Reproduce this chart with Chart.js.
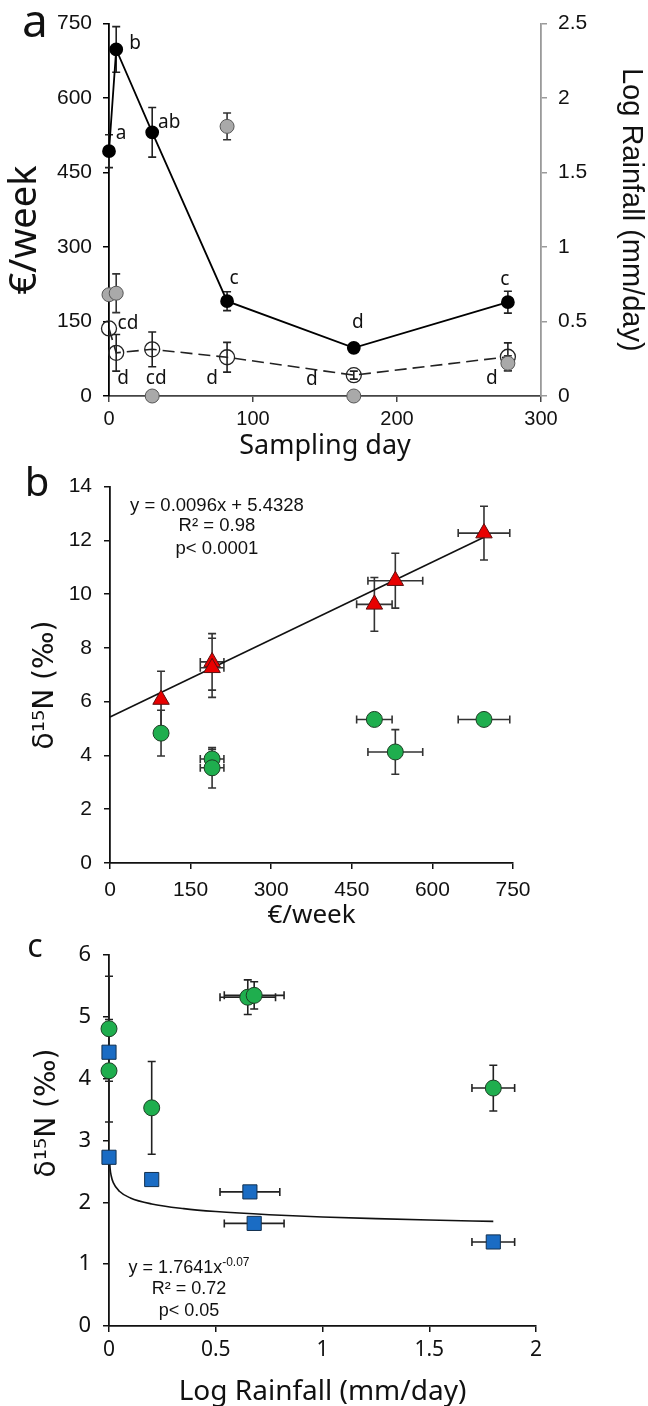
<!DOCTYPE html>
<html>
<head>
<meta charset="utf-8">
<title>Sampling day, €/week and δ15N</title>
<script src="https://cdn.jsdelivr.net/npm/chart.js"></script>
<style>
    body { margin: 0; background: #fff; overflow: hidden; }
    canvas { position: absolute; left: 0; }
    #chartA { top: 0; }
    #chartB { top: 462px; }
    #chartC { top: 930px; }
</style>
</head>
<body>
<canvas id="chartA" width="648" height="462"></canvas>
<canvas id="chartB" width="648" height="468"></canvas>
<canvas id="chartC" width="648" height="476"></canvas>

<script>
// ---------- data, panel a (sampling day)
const days = [0, 5, 30, 82, 170, 277];
const euroWeek = [493, 698, 531, 191, 97, 189];
const euroWeekErr = [33, 46, 50, 19, 5, 22];
const euroWeekLetters = ['a', 'b', 'ab', 'c', 'd', 'c'];
const openVals = [136, 87, 94, 78, 42, 79];
const openErr = [0, 37, 35, 30, 8, 28];
const openLetters = ['cd', 'd', 'cd', 'd', 'd', 'd'];
const logRain = [0.68, 0.69, 0, 1.81, 0, 0.22];
const logRainErr = [0, 0.13, 0, 0.09, 0, 0.05];
const dayTicks = [0, 100, 200, 300];
const euroTicks = [0, 150, 300, 450, 600, 750];
const rainTicks = [0, 0.5, 1, 1.5, 2, 2.5];

// ---------- data, panel b (€/week vs d15N)
const costX = [95, 190, 190, 492, 531, 696];
const costXErr = [5, 22, 22, 33, 51, 48];
const redN = [6.08, 7.48, 7.26, 9.62, 10.5, 12.27];
const redNErr = [1.05, 1.05, 1.1, 1.0, 1.02, 1.0];
const greenN = [4.83, 3.87, 3.54, 5.34, 4.13, 5.34];
const greenNErr = [0.85, 0.35, 0.75, 0.15, 0.83, 0.1];
const lineSlope = 0.0096;
const lineIntercept = 5.4328;
const lineX = [0, 696];
const nTicksB = [0, 2, 4, 6, 8, 10, 12, 14];

// ---------- data, panel c (log rainfall vs d15N)
const rainGreenX = [0, 0, 0.2, 0.65, 0.68, 1.8];
const rainGreenXErr = [0, 0, 0, 0.13, 0.14, 0.1];
const rainGreenY = [4.81, 4.13, 3.53, 5.32, 5.35, 3.85];
const rainGreenYErr = [0.85, 0.83, 0.75, 0.28, 0.22, 0.37];
const rainBlueX = [0, 0, 0.2, 0.66, 0.68, 1.8];
const rainBlueXErr = [0, 0, 0, 0.14, 0.14, 0.1];
const rainBlueY = [4.43, 2.73, 2.37, 2.17, 1.66, 1.36];
const powerCoef = 1.7641;
const powerExp = -0.07;
const curveX = [0.002, 0.005, 0.01, 0.02, 0.05, 0.1, 0.2, 0.35, 0.5, 0.75, 1, 1.25, 1.5, 1.8];
const rainTicksX = [0, 0.5, 1, 1.5, 2];
const nTicksC = [0, 1, 2, 3, 4, 5, 6];

// ---------- helpers
function pts(xs, ys) {
    return xs.map(function(x, i) { return { x: x, y: ys[i] }; });
}

function fixedTicks(list) {
    return function(scale) { scale.ticks = list.map(function(v) { return { value: v }; }); };
}

function drawErrors(chart, xs, ys, xErr, yErr, yAxis, color, cap) {
    const ctx = chart.ctx, sx = chart.scales.x, sy = chart.scales[yAxis];
    ctx.save();
    ctx.strokeStyle = color;
    ctx.lineWidth = 1.6;
    ctx.beginPath();
    xs.forEach(function(xv, i) {
        const px = sx.getPixelForValue(xv), py = sy.getPixelForValue(ys[i]);
        const ey = yErr ? yErr[i] : 0, ex = xErr ? xErr[i] : 0;
        if (ey) {
            const t = sy.getPixelForValue(ys[i] + ey), b = sy.getPixelForValue(ys[i] - ey);
            ctx.moveTo(px, t); ctx.lineTo(px, b);
            ctx.moveTo(px - cap, t); ctx.lineTo(px + cap, t);
            ctx.moveTo(px - cap, b); ctx.lineTo(px + cap, b);
        }
        if (ex) {
            const l = sx.getPixelForValue(xv - ex), r = sx.getPixelForValue(xv + ex);
            ctx.moveTo(l, py); ctx.lineTo(r, py);
            ctx.moveTo(l, py - cap); ctx.lineTo(l, py + cap);
            ctx.moveTo(r, py - cap); ctx.lineTo(r, py + cap);
        }
    });
    ctx.stroke();
    ctx.restore();
}

function text(ctx, str, x, y, font, rot) {
    ctx.save();
    ctx.font = font;
    ctx.fillStyle = '#111';
    ctx.textAlign = 'center';
    ctx.textBaseline = 'middle';
    ctx.translate(x, y);
    if (rot) ctx.rotate(rot);
    ctx.fillText(str, 0, 0);
    ctx.restore();
}

function axisStyle(color) {
    return {
        border: { display: true, color: color, width: 1.8 },
        grid: { drawOnChartArea: false, drawTicks: true, tickLength: 6, color: color, lineWidth: 1.5 }
    };
}

const base = {
    responsive: false,
    animation: false,
    devicePixelRatio: 1,
    events: [],
    plugins: { legend: { display: false }, tooltip: { enabled: false } }
};

// ---------- panel a
// pixel offsets of the significance letters from their points
const blackLetterOffsets = [[12, -18], [19, -6], [17, -10], [7, -23], [4, -25], [-3, -23]];
const openLetterOffsets = [[19, -5], [7, 26], [4, 29], [-15, 21], [-42, 4], [-16, 22]];

new Chart(document.getElementById('chartA'), {
    type: 'scatter',
    data: {
        datasets: [{
            data: pts(days, euroWeek), yAxisID: 'y', showLine: true, clip: false,
            borderColor: '#000', borderWidth: 1.8,
            pointRadius: 6, pointBackgroundColor: '#000', pointBorderColor: '#000'
        }, {
            data: pts(days, logRain), yAxisID: 'y2', showLine: false, clip: false,
            pointRadius: 7, pointBackgroundColor: '#a9a9a9', pointBorderColor: '#555', pointBorderWidth: 1
        }, {
            data: pts(days, openVals), yAxisID: 'y', showLine: true, clip: false,
            borderColor: '#222', borderWidth: 1.6, borderDash: [12, 6],
            pointRadius: 7.5, pointBackgroundColor: 'rgba(0,0,0,0)', pointBorderColor: '#222', pointBorderWidth: 1.3
        }]
    },
    options: Object.assign({}, base, {
        layout: { padding: { top: 23, left: 0, right: 0, bottom: 0 } },
        scales: {
            x: Object.assign(axisStyle('#444'), {
                type: 'linear', position: 'bottom', min: 0, max: 300,
                afterBuildTicks: fixedTicks(dayTicks),
                afterFit: function(s) { s.height = 66; },
                ticks: { color: '#111', font: { family: 'Liberation Sans', size: 20 }, padding: 5, maxRotation: 0 },
                title: { display: true, text: 'Sampling day', color: '#111',
                    font: { family: 'Noto Sans', size: 27, lineHeight: 1 }, padding: { top: 0, bottom: 2 } }
            }),
            y: Object.assign(axisStyle('#000'), {
                position: 'left', min: 0, max: 750,
                afterBuildTicks: fixedTicks(euroTicks),
                afterFit: function(s) { s.width = 109; },
                ticks: { color: '#111', font: { family: 'Liberation Sans', size: 21 }, padding: 11 }
            }),
            y2: Object.assign(axisStyle('#9a9a9a'), {
                position: 'right', min: 0, max: 2.5,
                afterBuildTicks: fixedTicks(rainTicks),
                afterFit: function(s) { s.width = 107; },
                ticks: { color: '#111', font: { family: 'Liberation Sans', size: 21 }, padding: 11,
                    callback: function(v) { return String(v); } },
                title: { display: true, text: 'Log Rainfall (mm/day)', color: '#111',
                    font: { family: 'Liberation Sans', size: 29, lineHeight: 1 }, padding: { top: 3, bottom: 0 } }
            })
        }
    }),
    plugins: [{
        id: 'panelA',
        beforeDatasetsDraw: function(chart) {
            drawErrors(chart, days, euroWeek, null, euroWeekErr, 'y', '#222', 4);
            drawErrors(chart, days, openVals, null, openErr, 'y', '#222', 4);
            drawErrors(chart, days, logRain, null, logRainErr, 'y2', '#333', 4);
        },
        afterDraw: function(chart) {
            const ctx = chart.ctx, sx = chart.scales.x, sy = chart.scales.y;
            const f = '19px "Noto Sans"';
            days.forEach(function(d, i) {
                text(ctx, euroWeekLetters[i], sx.getPixelForValue(d) + blackLetterOffsets[i][0],
                    sy.getPixelForValue(euroWeek[i]) + blackLetterOffsets[i][1], f);
                text(ctx, openLetters[i], sx.getPixelForValue(d) + openLetterOffsets[i][0],
                    sy.getPixelForValue(openVals[i]) + openLetterOffsets[i][1], f);
            });
            text(ctx, 'a', 35, 24, '46px "Noto Sans"');
            text(ctx, '€/week', 25, 230, '38px "Noto Sans"', -Math.PI / 2);
        }
    }]
});

// ---------- panel b
new Chart(document.getElementById('chartB'), {
    type: 'scatter',
    data: {
        datasets: [{
            data: pts(costX, redN), showLine: false, clip: false,
            pointStyle: 'triangle', pointRadius: 9.5,
            pointBackgroundColor: '#e80000', pointBorderColor: '#5a1010', pointBorderWidth: 1
        }, {
            data: pts(costX, greenN), showLine: false, clip: false,
            pointRadius: 8, pointBackgroundColor: '#1fae4e', pointBorderColor: '#1d3d24', pointBorderWidth: 1
        }, {
            data: pts(lineX, lineX.map(function(x) { return lineSlope * x + lineIntercept; })),
            showLine: true, clip: false, borderColor: '#111', borderWidth: 1.6, pointRadius: 0
        }]
    },
    options: Object.assign({}, base, {
        layout: { padding: { top: 21, left: 0, right: 135, bottom: 0 } },
        scales: {
            x: Object.assign(axisStyle('#111'), {
                type: 'linear', position: 'bottom', min: 0, max: 750,
                afterBuildTicks: fixedTicks(euroTicks),
                afterFit: function(s) { s.height = 67; },
                ticks: { color: '#111', font: { family: 'Liberation Sans', size: 21 }, padding: 9, maxRotation: 0 },
                title: { display: true, text: '€/week', color: '#111',
                    font: { family: 'Noto Sans', size: 26, lineHeight: 1 }, padding: { top: 0, bottom: 1 } }
            }),
            y: Object.assign(axisStyle('#111'), {
                position: 'left', min: 0, max: 14,
                afterBuildTicks: fixedTicks(nTicksB),
                afterFit: function(s) { s.width = 110; },
                ticks: { color: '#111', font: { family: 'Liberation Sans', size: 21 }, padding: 12 }
            })
        }
    }),
    plugins: [{
        id: 'panelB',
        beforeDatasetsDraw: function(chart) {
            drawErrors(chart, costX, redN, costXErr, redNErr, 'y', '#333', 4);
            drawErrors(chart, costX, greenN, costXErr, greenNErr, 'y', '#333', 4);
        },
        afterDraw: function(chart) {
            const ctx = chart.ctx, sx = chart.scales.x, sy = chart.scales.y;
            const f = '18.5px "Liberation Sans"';
            const cx = sx.getPixelForValue(199);
            text(ctx, 'y = 0.0096x + 5.4328', cx, sy.getPixelForValue(13.3), f);
            text(ctx, 'R² = 0.98', cx, sy.getPixelForValue(12.53), f);
            text(ctx, 'p< 0.0001', cx, sy.getPixelForValue(11.68), f);
            text(ctx, 'b', 37, 23, '40px "Noto Sans"');
            text(ctx, 'δ¹⁵N (‰)', 46, 223, '28px "DejaVu Sans"', -Math.PI / 2);
        }
    }]
});

// ---------- panel c
new Chart(document.getElementById('chartC'), {
    type: 'scatter',
    data: {
        datasets: [{
            data: pts(rainGreenX, rainGreenY), showLine: false, clip: false,
            pointRadius: 8, pointBackgroundColor: '#1fae4e', pointBorderColor: '#1d3d24', pointBorderWidth: 1
        }, {
            data: pts(rainBlueX, rainBlueY), showLine: false, clip: false,
            pointStyle: 'rect', pointRadius: 10,
            pointBackgroundColor: '#1a6cc4', pointBorderColor: '#12304f', pointBorderWidth: 1
        }, {
            data: pts(curveX, curveX.map(function(x) { return powerCoef * Math.pow(x, powerExp); })),
            showLine: true, clip: false, borderColor: '#111', borderWidth: 1.6, pointRadius: 0,
            cubicInterpolationMode: 'monotone'
        }]
    },
    options: Object.assign({}, base, {
        layout: { padding: { top: 17, left: 0, right: 112, bottom: 0 } },
        scales: {
            x: Object.assign(axisStyle('#111'), {
                type: 'linear', position: 'bottom', min: 0, max: 2,
                afterBuildTicks: fixedTicks(rainTicksX),
                afterFit: function(s) { s.height = 80; },
                ticks: { color: '#111', font: { family: 'Noto Sans', size: 21 }, padding: 5, maxRotation: 0,
                    callback: function(v) { return String(v); } },
                title: { display: true, text: 'Log Rainfall (mm/day)', color: '#111',
                    font: { family: 'Noto Sans', size: 28, lineHeight: 1 }, padding: { top: 0, bottom: 0 } }
            }),
            y: Object.assign(axisStyle('#111'), {
                position: 'left', min: 0, max: 6,
                afterBuildTicks: fixedTicks(nTicksC),
                afterFit: function(s) { s.width = 109; },
                ticks: { color: '#111', font: { family: 'Noto Sans', size: 22 }, padding: 12 }
            })
        }
    }),
    plugins: [{
        id: 'panelC',
        beforeDatasetsDraw: function(chart) {
            drawErrors(chart, rainGreenX, rainGreenY, rainGreenXErr, rainGreenYErr, 'y', '#222', 4);
            drawErrors(chart, rainBlueX, rainBlueY, rainBlueXErr, null, 'y', '#222', 4);
        },
        afterDraw: function(chart) {
            const ctx = chart.ctx, sx = chart.scales.x, sy = chart.scales.y;
            const f = '18px "Liberation Sans"';
            const sup = '12px "Liberation Sans"';
            const cx = sx.getPixelForValue(0.375);
            // equation with a raised exponent
            ctx.save();
            ctx.font = f;
            const w1 = ctx.measureText('y = 1.7641x').width;
            ctx.font = sup;
            const w2 = ctx.measureText('-0.07').width;
            const x0 = cx - (w1 + w2) / 2, y0 = sy.getPixelForValue(0.93);
            ctx.fillStyle = '#111';
            ctx.textBaseline = 'middle';
            ctx.textAlign = 'left';
            ctx.font = f;
            ctx.fillText('y = 1.7641x', x0, y0);
            ctx.font = sup;
            ctx.fillText('-0.07', x0 + w1, y0 - 6);
            ctx.restore();
            text(ctx, 'R² = 0.72', cx, sy.getPixelForValue(0.6), f);
            text(ctx, 'p< 0.05', cx, sy.getPixelForValue(0.25), f);
            text(ctx, 'c', 35, 18, '32px "Noto Sans"');
            text(ctx, 'δ¹⁵N (‰)', 48, 183, '28px "DejaVu Sans"', -Math.PI / 2);
        }
    }]
});
</script>
</body>
</html>
